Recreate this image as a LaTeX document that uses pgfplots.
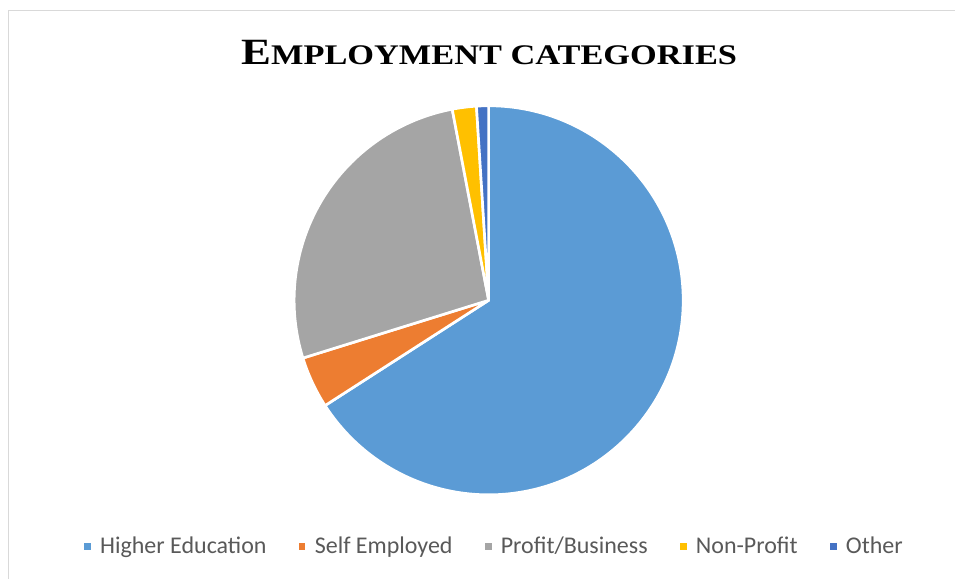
\documentclass[border=0pt]{standalone}
\usepackage{fontspec}
\usepackage{pgfplots}
\usepackage{pgfplotstable}
\pgfplotsset{compat=1.18}
\setmainfont{Carlito}
\newfontfamily\titlefont{Liberation Serif}

\definecolor{c0}{HTML}{5B9BD5}
\definecolor{c1}{HTML}{ED7D31}
\definecolor{c2}{HTML}{A5A5A5}
\definecolor{c3}{HTML}{FFC000}
\definecolor{c4}{HTML}{4472C4}
\definecolor{framegray}{HTML}{D9D9D9}
\definecolor{legtext}{HTML}{595959}

% share of each category, in percent
\pgfplotstableread[col sep=comma]{
label,value
Higher Education,65.9
Self Employed,4.3
Profit/Business,26.8
Non-Profit,2.0
Other,1.0
}\employment

% cumulative angles, clockwise from 12 o'clock
\xdef\curangle{90}
\foreach \i in {0,...,4}{
  \pgfplotstablegetelem{\i}{value}\of\employment
  \pgfmathsetmacro\nextangle{\curangle-3.6*\pgfplotsretval}
  \expandafter\xdef\csname start\i\endcsname{\curangle}
  \expandafter\xdef\csname end\i\endcsname{\nextangle}
  \xdef\curangle{\nextangle}
}

\pgfplotsset{
  legend image code/.code={\fill[#1, draw=none] (0pt,-2.6pt) rectangle (5.2pt,2.6pt);},
}

\begin{document}
\begin{tikzpicture}
\begin{axis}[
  scale only axis,
  width=717pt, height=434.25pt,
  xmin=0, xmax=956, ymin=0, ymax=579,
  hide axis, clip=false,
  legend columns=5,
  legend style={at={(axis cs:495,32)}, anchor=center, draw=none, fill=none,
    font=\fontsize{18}{21}\selectfont, text=legtext,
    /tikz/every odd column/.append style={column sep=5pt},
    /tikz/every even column/.append style={column sep=22pt}},
]
\path (axis cs:0,0) rectangle (axis cs:956,579);
\draw[framegray, line width=1pt] (axis cs:8.5,0) -- (axis cs:8.5,568.5) -- (axis cs:956,568.5);

\pgfplotsinvokeforeach{0,...,4}{
  \fill[c#1, draw=white, line width=2pt, line join=round]
    (axis cs:489,278.5) -- ++(\csname start#1\endcsname:146pt)
    arc[start angle=\csname start#1\endcsname, end angle=\csname end#1\endcsname, radius=146pt] -- cycle;
}

\node at (axis cs:489.5,526.5) {\resizebox{372pt}{18.2pt}{\titlefont\bfseries
  {\fontsize{30}{30}\selectfont E}{\fontsize{23}{23}\selectfont MPLOYMENT CATEGORIES}}};

\addlegendimage{fill=c0}\addlegendentry{Higher Education}
\addlegendimage{fill=c1}\addlegendentry{Self Employed}
\addlegendimage{fill=c2}\addlegendentry{Profit/Business}
\addlegendimage{fill=c3}\addlegendentry{Non-Profit}
\addlegendimage{fill=c4}\addlegendentry{Other}
\end{axis}
\end{tikzpicture}
\end{document}
